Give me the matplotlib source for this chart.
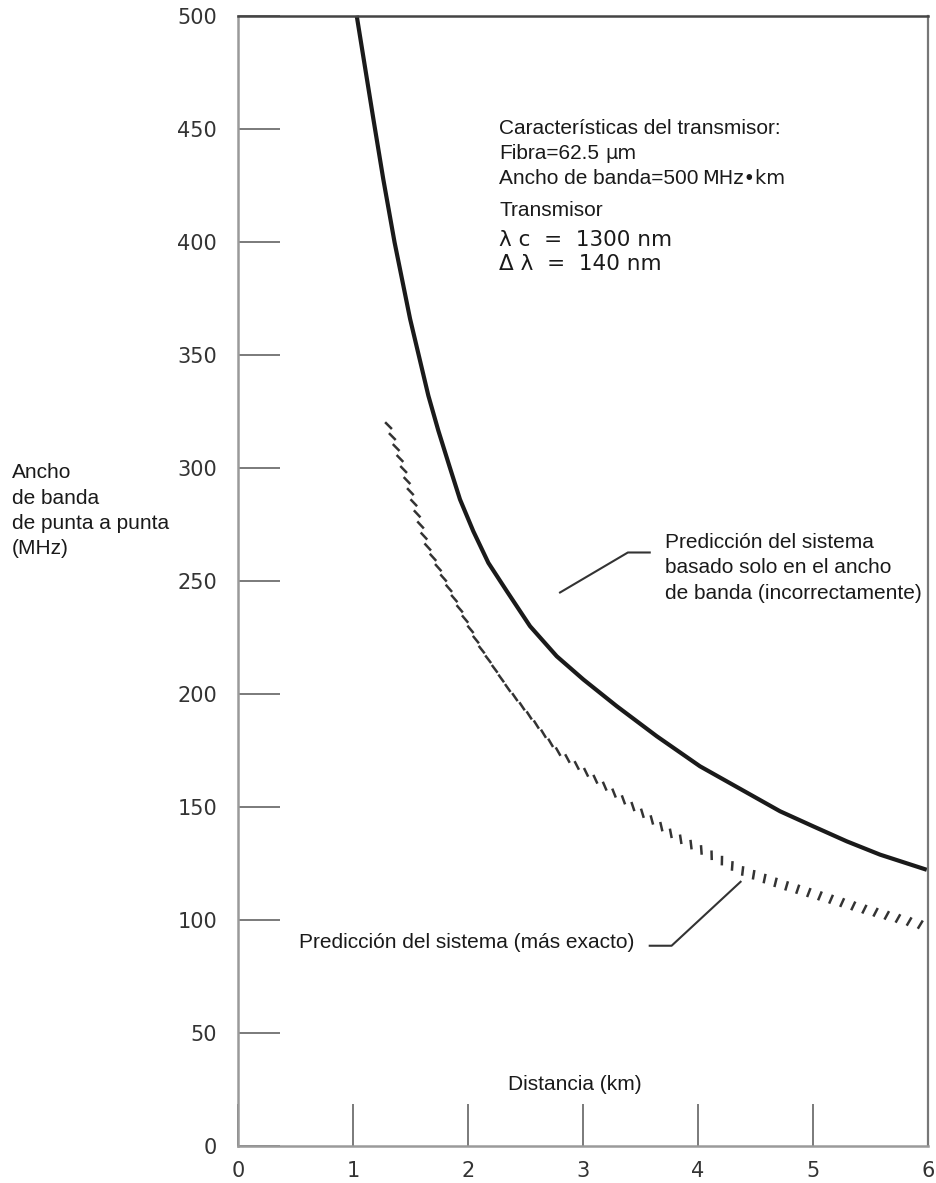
import numpy as np
import matplotlib
matplotlib.use("Agg")
from matplotlib import pyplot as plt
from matplotlib.collections import LineCollection

# ---------------------------------------------------------------
# Data
# ---------------------------------------------------------------
# Bandwidth-only prediction (solid)
solid_x = [1.032, 1.177, 1.263, 1.361, 1.496, 1.655, 1.742, 1.837, 1.930, 2.046, 2.177, 2.337,
           2.539, 2.771, 3.003, 3.293, 3.641, 4.017, 4.713, 5.003, 5.293, 5.583, 5.989]
solid_y = [500.1, 454.4, 427.8, 399.9, 366.0, 332.0, 316.5, 301.0, 286.1, 272.0, 258.0, 245.5,
           230.0, 216.7, 206.4, 194.6, 181.3, 168.0, 148.1, 141.4, 134.8, 128.9, 122.2]
# More exact system prediction (hatched)
hatch_x = [1.30, 1.43, 1.64, 1.80, 2.10, 2.34, 2.77, 3.30, 3.80, 4.37, 4.71, 5.43, 6.0]
hatch_y = [320, 301, 266, 250, 221, 203, 175, 155, 137, 122, 116, 105, 97]

x_ticks = [0, 1, 2, 3, 4, 5, 6]
y_ticks = [0, 50, 100, 150, 200, 250, 300, 350, 400, 450, 500]

info_title = "Características del transmisor:"
fibre_txt, fibre_unit = "Fibra=62.5", "μm"
bw_txt, bw_unit = "Ancho de banda=500", "MHz•km"
source_title = "Transmisor"
source_lines = ["λ c  =  1300 nm", "Δ λ  =  140 nm"]
note_solid = ["Predicción del sistema", "basado solo en el ancho", "de banda (incorrectamente)"]
note_hatch = "Predicción del sistema (más exacto)"
ylabel_lines = ["Ancho", "de banda", "de punta a punta", "(MHz)"]
xlabel = "Distancia (km)"

# ---------------------------------------------------------------
# Styles
# ---------------------------------------------------------------
txt_col = "#1a1a1a"
arial = ["Liberation Sans", "DejaVu Sans"]
verdana = ["DejaVu Sans"]
fs = 15

fig = plt.figure(figsize=(9.36, 11.83), dpi=100)
ax = fig.add_axes([0.2543, 0.0313, 0.7372, 0.9552])
ax.set_xlim(0, 6)
ax.set_ylim(0, 500)

# spines
for side in ["left", "bottom"]:
    ax.spines[side].set_color("#9a9a9a")
    ax.spines[side].set_linewidth(1.8)
ax.spines["top"].set_color("#444444")
ax.spines["top"].set_linewidth(1.8)
ax.spines["right"].set_color("#777777")
ax.spines["right"].set_linewidth(1.6)

# ticks
ax.set_xticks(x_ticks)
ax.set_yticks(y_ticks)
ax.tick_params(axis="y", direction="in", length=30, width=1.4, color="#7a7a7a",
               pad=15, labelsize=15, labelcolor="#333333")
ax.tick_params(axis="x", direction="in", length=30, width=1.4, color="#7a7a7a",
               pad=11, labelsize=15, labelcolor="#333333")
for lab in ax.get_xticklabels() + ax.get_yticklabels():
    lab.set_family(verdana)

# solid curve
ax.plot(solid_x, solid_y, color="#1a1a1a", lw=3.0, solid_joinstyle="round",
        solid_capstyle="butt", clip_on=False)

# hatched curve: short slanted marks along the path
pts = ax.transData.transform(np.column_stack([hatch_x, hatch_y]))
seg_len = np.hypot(np.diff(pts[:, 0]), np.diff(pts[:, 1]))
arc = np.concatenate([[0], np.cumsum(seg_len)])
s = np.arange(3, arc[-1], 11.6)
px = np.interp(s, arc, pts[:, 0])
py = np.interp(s, arc, pts[:, 1])
xd = np.interp(s, arc, hatch_x)
ang = np.deg2rad(np.interp(xd, [1.3, 2.0, 2.6, 3.1, 3.6, 4.0, 4.4, 5.0, 6.0],
                           [-45, -50, -58, -65, -75, -85, -97, -112, -122]))
half = 4.8
p0 = np.column_stack([px - half * np.cos(ang), py - half * np.sin(ang)])
p1 = np.column_stack([px + half * np.cos(ang), py + half * np.sin(ang)])
inv = ax.transData.inverted()
segs = np.stack([inv.transform(p0), inv.transform(p1)], axis=1)
ax.add_collection(LineCollection(segs, colors="#333333", linewidths=1.8, capstyle="butt"))

# transmitter info
ax.text(2.27, 450, info_title, fontsize=fs, family=arial, color=txt_col, va="center")
ax.text(2.27, 439.3, fibre_txt, fontsize=fs, family=arial, color=txt_col, va="center")
ax.text(3.19, 439.3, fibre_unit, fontsize=14, family=verdana, color=txt_col, va="center")
ax.text(2.27, 428.3, bw_txt, fontsize=fs, family=arial, color=txt_col, va="center")
ax.text(4.035, 428.3, bw_unit, fontsize=14, family=verdana, color=txt_col, va="center")
ax.text(2.27, 414.1, source_title, fontsize=fs, family=arial, color=txt_col, va="center")
for t, yy in zip(source_lines, [400.8, 390.2]):
    ax.text(2.27, yy, t, fontsize=15.5, family=verdana, color=txt_col, va="center", ha="left")

# annotation for the solid curve
for t, yy in zip(note_solid, [267, 256, 244.5]):
    ax.text(3.71, yy, t, fontsize=fs, family=arial, color=txt_col, va="center", ha="left")
ax.plot([2.80, 3.39, 3.58], [244.9, 262.6, 262.6], color="#333333", lw=1.5)

# annotation for the hatched curve
ax.text(0.53, 89.9, note_hatch, fontsize=fs, family=arial, color=txt_col, va="center", ha="left")
ax.plot([3.58, 3.77, 4.37], [88.6, 88.6, 116.9], color="#333333", lw=1.5)

# axis labels
ax.text(2.93, 27, xlabel, fontsize=fs, family=arial, color=txt_col, va="center", ha="center")
for i, t in enumerate(ylabel_lines):
    fig.text(12 / 936, 1 - (473 + 25.3 * i) / 1183, t, fontsize=fs, family=arial,
             color=txt_col, va="center", ha="left")

fig.savefig("out.png", dpi=100)
